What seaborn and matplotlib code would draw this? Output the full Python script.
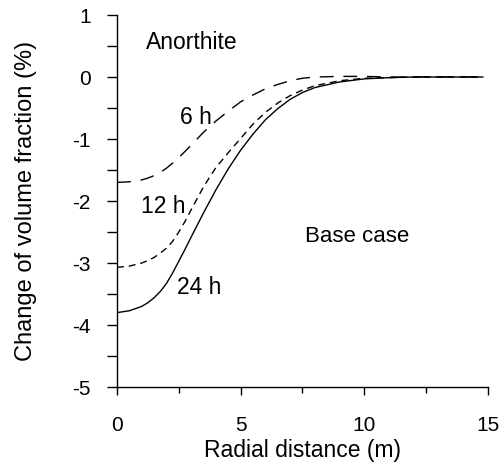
import numpy as np
import pandas as pd
import matplotlib
matplotlib.use("Agg")
import matplotlib.pyplot as plt
import seaborn as sns
from matplotlib.ticker import MultipleLocator

# Data
radial_distance = [0, 0.5, 1, 1.25, 1.5, 1.75, 2, 2.25, 2.5, 2.75, 3, 3.5, 4, 4.5, 5, 5.5,
                   6, 6.5, 7, 7.5, 8, 9, 10, 11, 12, 13, 14, 14.8]
change_6h = [-1.70, -1.69, -1.66, -1.63, -1.59, -1.54, -1.47, -1.39, -1.30, -1.20, -1.10,
             -0.89, -0.71, -0.55, -0.40, -0.29, -0.19, -0.12, -0.06, -0.02, 0.00, 0.01,
             0.01, 0.00, 0.00, 0.00, 0.00, 0.00]
change_12h = [-3.07, -3.05, -3.00, -2.96, -2.91, -2.84, -2.76, -2.65, -2.50, -2.33, -2.14,
              -1.77, -1.46, -1.22, -0.99, -0.76, -0.57, -0.42, -0.30, -0.21, -0.14, -0.06,
              -0.02, -0.01, 0.00, 0.00, 0.00, 0.00]
change_24h = [-3.80, -3.77, -3.70, -3.64, -3.56, -3.46, -3.33, -3.16, -2.97, -2.78, -2.58,
              -2.19, -1.82, -1.48, -1.18, -0.92, -0.69, -0.51, -0.36, -0.25, -0.17, -0.08,
              -0.03, -0.01, 0.00, 0.00, 0.00, 0.00]
series_names = ["6 h", "12 h", "24 h"]

df = pd.DataFrame({
    "x": radial_distance * 3,
    "y": change_6h + change_12h + change_24h,
    "series": [s for s in series_names for _ in radial_distance],
})

sns.set_style("ticks")
plt.rcParams["font.family"] = ["Liberation Sans", "DejaVu Sans"]
plt.rcParams["axes.unicode_minus"] = False
plt.rcParams["text.color"] = "black"
plt.rcParams["axes.labelcolor"] = "black"

fig = plt.figure(figsize=(5.01, 4.65), dpi=100)
ax = fig.add_axes([0.2335, 0.1677, 0.7405, 0.80])

sns.lineplot(data=df, x="x", y="y", style="series", sort=False,
             dashes={"6 h": (10, 7), "12 h": (5, 3.5), "24 h": ""},
             color="black", linewidth=1.0, legend=False, ax=ax)

ax.set_xlim(0, 15)
ax.set_ylim(-5, 1)
ax.xaxis.set_major_locator(MultipleLocator(5))
ax.xaxis.set_minor_locator(MultipleLocator(2.5))
ax.yaxis.set_major_locator(MultipleLocator(1))
ax.yaxis.set_minor_locator(MultipleLocator(0.5))
sns.despine(ax=ax)
for sp in ["left", "bottom"]:
    ax.spines[sp].set_linewidth(1.0)
    ax.spines[sp].set_color("black")

ax.tick_params(axis="x", which="major", direction="out", length=6, width=1.0, pad=15,
               labelsize=15, colors="black")
ax.tick_params(axis="x", which="minor", direction="out", length=4, width=1.0, colors="black")
ax.tick_params(axis="y", which="major", direction="out", length=7, width=1.0, pad=12,
               labelsize=15, colors="black")
ax.tick_params(axis="y", which="minor", direction="out", length=7, width=1.0, colors="black")

ax.set_xlabel("Radial distance (m)", fontsize=16.5, labelpad=2.5)
ax.set_ylabel("Change of volume fraction (%)", fontsize=17, labelpad=25)

ax.text(1.17, 0.55, "Anorthite", fontsize=16.5, ha="left", va="center")
ax.text(3.2, -0.66, "6 h", fontsize=16.5, ha="center", va="center")
ax.text(1.87, -2.09, "12 h", fontsize=16.5, ha="center", va="center")
ax.text(3.32, -3.39, "24 h", fontsize=16.5, ha="center", va="center")
ax.text(9.72, -2.57, "Base case", fontsize=16, ha="center", va="center")

fig.savefig("out.png", dpi=100)
